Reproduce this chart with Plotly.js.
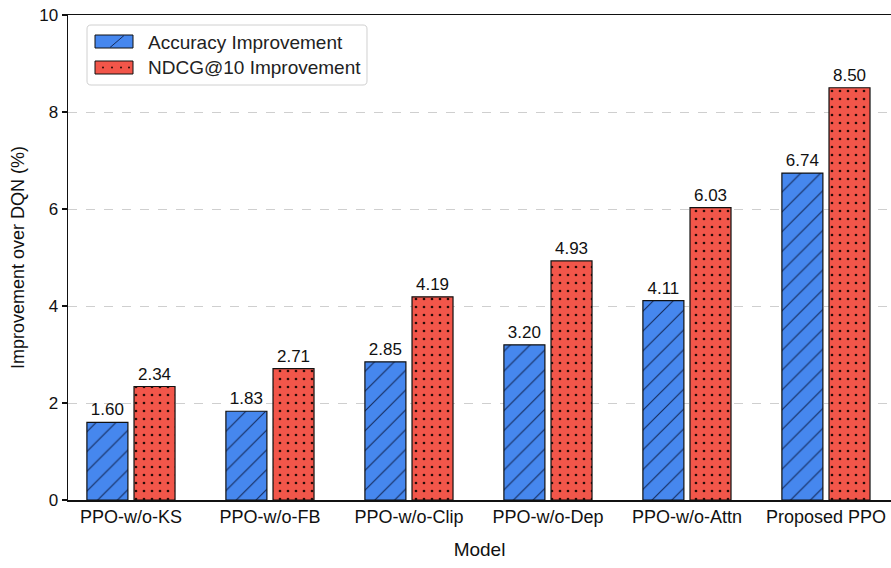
<!DOCTYPE html>
<html>
<head>
<meta charset="utf-8">
<script src="https://cdn.plot.ly/plotly-3.0.1.min.js"></script>
<style>
  html, body { margin: 0; padding: 0; background: #ffffff; }
  #chart { width: 891px; height: 568px; }
</style>
</head>
<body>
<div id="chart"></div>
<script>
// Ablation results: improvement of each PPO variant over the DQN baseline (%)
const models = ["PPO-w/o-KS", "PPO-w/o-FB", "PPO-w/o-Clip", "PPO-w/o-Dep", "PPO-w/o-Attn", "Proposed PPO"];
const accuracyGain = [1.60, 1.83, 2.85, 3.20, 4.11, 6.74];
const ndcgGain = [2.34, 2.71, 4.19, 4.93, 6.03, 8.50];
const seriesNames = ["Accuracy Improvement", "NDCG@10 Improvement"];
const yTicks = [0, 2, 4, 6, 8, 10];

const FONT = "Liberation Sans, Arial, Helvetica, sans-serif";
const BLUE = "#4687ee";
const RED = "#f2564a";
const HATCH = "#142a5c";
const DOT = "#2a0c08";

// plot box in pixels (used to place the hand-drawn legend)
const W = 891, H = 568;
const M = { l: 68, r: 0, t: 15, b: 68 };
const plotW = W - M.l - M.r, plotH = H - M.t - M.b;
const px = x => (x - M.l) / plotW;
const py = y => (H - M.b - y) / plotH;

const barW = 0.295;

const accTrace = {
  type: "bar",
  name: seriesNames[0],
  x: models,
  y: accuracyGain,
  width: barW,
  offset: -0.317,
  marker: {
    color: BLUE,
    line: { color: "#111111", width: 1.2 },
    pattern: { shape: "/", size: 14, solidity: 0.08, fgcolor: HATCH, bgcolor: BLUE, fgopacity: 1, fillmode: "replace" }
  },
  text: accuracyGain.map(v => v.toFixed(2)),
  textposition: "outside",
  textfont: { family: FONT, size: 17, color: "#111111" },
  cliponaxis: false,
  showlegend: false,
  hoverinfo: "x+y"
};

const ndcgTrace = {
  type: "bar",
  name: seriesNames[1],
  x: models,
  y: ndcgGain,
  width: barW,
  offset: 0.022,
  marker: {
    color: RED,
    line: { color: "#111111", width: 1.2 },
    pattern: { shape: ".", size: 8, solidity: 0.09, fgcolor: DOT, bgcolor: RED, fgopacity: 1, fillmode: "replace" }
  },
  text: ndcgGain.map(v => v.toFixed(2)),
  textposition: "outside",
  textfont: { family: FONT, size: 17, color: "#111111" },
  cliponaxis: false,
  showlegend: false,
  hoverinfo: "x+y"
};

// rounded legend frame
function roundedPath(x0, y0, x1, y1, r) {
  const P = (x, y) => px(x).toFixed(5) + "," + py(y).toFixed(5);
  return "M" + P(x0 + r, y0) + " L" + P(x1 - r, y0) +
    " Q" + P(x1, y0) + " " + P(x1, y0 + r) +
    " L" + P(x1, y1 - r) +
    " Q" + P(x1, y1) + " " + P(x1 - r, y1) +
    " L" + P(x0 + r, y1) +
    " Q" + P(x0, y1) + " " + P(x0, y1 - r) +
    " L" + P(x0, y0 + r) +
    " Q" + P(x0, y0) + " " + P(x0 + r, y0) + " Z";
}

const shapes = [
  { type: "path", xref: "paper", yref: "paper", path: roundedPath(87, 25, 367, 85, 4),
    fillcolor: "rgba(255,255,255,0.9)", line: { color: "#d0d0d0", width: 1 } },
  // swatch: accuracy
  { type: "rect", xref: "paper", yref: "paper", x0: px(95), x1: px(133), y0: py(48), y1: py(35),
    fillcolor: BLUE, line: { color: "#111111", width: 1 } },
  { type: "line", xref: "paper", yref: "paper", x0: px(110), x1: px(124), y0: py(47.5), y1: py(35.5),
    line: { color: HATCH, width: 1 } },
  // swatch: ndcg
  { type: "rect", xref: "paper", yref: "paper", x0: px(95), x1: px(133), y0: py(74), y1: py(61),
    fillcolor: RED, line: { color: "#111111", width: 1 } }
];
[103, 112, 121, 129].forEach(cx => {
  shapes.push({ type: "circle", xref: "paper", yref: "paper",
    x0: px(cx - 1), x1: px(cx + 1), y0: py(68.5), y1: py(66.5),
    fillcolor: DOT, line: { width: 0 } });
});

const annotations = [
  { xref: "paper", yref: "paper", x: px(146), y: py(42), xanchor: "left", yanchor: "middle",
    text: seriesNames[0], showarrow: false, font: { family: FONT, size: 19, color: "#222222" } },
  { xref: "paper", yref: "paper", x: px(146), y: py(67.5), xanchor: "left", yanchor: "middle",
    text: seriesNames[1], showarrow: false, font: { family: FONT, size: 19, color: "#222222" } }
];

const layout = {
  width: W, height: H,
  margin: M,
  paper_bgcolor: "#ffffff",
  plot_bgcolor: "#ffffff",
  barmode: "overlay",
  font: { family: FONT, color: "#111111" },
  showlegend: false,
  xaxis: {
    type: "category",
    range: [-0.453, 5.468],
    showline: true, linecolor: "#111111", linewidth: 1.5,
    mirror: true,
    ticks: "", showgrid: false, zeroline: false,
    tickfont: { family: FONT, size: 18, color: "#111111" },
    title: { text: "Model", font: { family: FONT, size: 19, color: "#111111" }, standoff: 16 }
  },
  yaxis: {
    range: [0, 10],
    tickvals: yTicks,
    ticktext: yTicks.map(String),
    showline: true, linecolor: "#111111", linewidth: 1.5,
    ticks: "outside", ticklen: 5, tickwidth: 1.2, tickcolor: "#111111",
    showgrid: true, gridcolor: "#cfcfcf", griddash: "dash", gridwidth: 1,
    zeroline: false,
    tickfont: { family: FONT, size: 17, color: "#111111" },
    title: { text: "Improvement over DQN (%)", font: { family: FONT, size: 18, color: "#111111" }, standoff: 10 }
  },
  shapes: shapes,
  annotations: annotations
};

Plotly.newPlot("chart", [accTrace, ndcgTrace], layout, { displayModeBar: false, staticPlot: true });
</script>
</body>
</html>
